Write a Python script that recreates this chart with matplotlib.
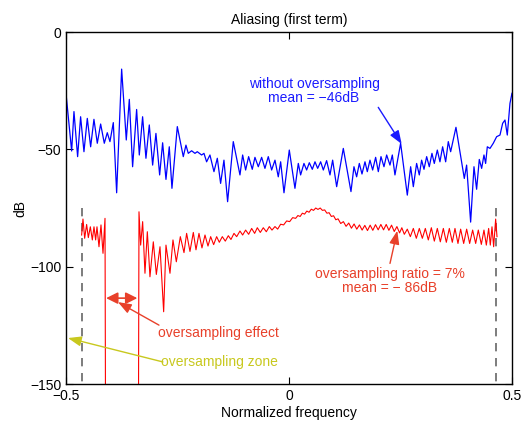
import matplotlib
matplotlib.use('Agg')
import matplotlib.pyplot as plt

plt.rcParams['font.family'] = ['Liberation Sans', 'DejaVu Sans']
plt.rcParams['font.size'] = 10

# aliasing spectrum without oversampling (dB)
blue_x = [-0.5, -0.4873, -0.4821, -0.4739, -0.4672, -0.4597, -0.4522, -0.4447, -0.4373, -0.4298,
          -0.4223, -0.4141, -0.4074, -0.4014, -0.3939, -0.3864, -0.3752, -0.3648, -0.3580, -0.3506,
          -0.3416, -0.3356, -0.3282, -0.3207, -0.3132, -0.3057, -0.2983, -0.2900, -0.2833, -0.2758,
          -0.2684, -0.2624, -0.2504, -0.2370, -0.2310, -0.2258, -0.2183, -0.2108, -0.2056, -0.1959,
          -0.1906, -0.1847, -0.1772, -0.1682, -0.1607, -0.1533, -0.1458, -0.1376, -0.1249, -0.1099,
          -0.1039, -0.0972, -0.0905, -0.0823, -0.0763, -0.0688, -0.0613, -0.0539, -0.0464, -0.0389,
          -0.0314, -0.0240, -0.0187, -0.0112, 0.0007, 0.0134, 0.0209, 0.0261, 0.0336, 0.0396,
          0.0456, 0.0523, 0.0583, 0.0643, 0.0710, 0.0770, 0.0844, 0.0919, 0.0979, 0.1069,
          0.1218, 0.1390, 0.1457, 0.1517, 0.1577, 0.1637, 0.1704, 0.1756, 0.1816, 0.1876,
          0.1943, 0.2003, 0.2063, 0.2130, 0.2190, 0.2264, 0.2317, 0.2376, 0.2503, 0.2653,
          0.2728, 0.2788, 0.2862, 0.2922, 0.2974, 0.3027, 0.3087, 0.3146, 0.3206, 0.3258,
          0.3326, 0.3385, 0.3445, 0.3513, 0.3572, 0.3625, 0.3744, 0.3931, 0.3983, 0.4073,
          0.4148, 0.4207, 0.4267, 0.4320, 0.4372, 0.4409, 0.4447, 0.4507, 0.4581, 0.4656,
          0.4731, 0.4791, 0.4843, 0.4895, 0.4955, 0.5]
blue_db = [-26.1, -50.7, -33.9, -53.1, -36.1, -51.0, -36.8, -48.9, -37.2, -47.4,
           -39.2, -47.4, -42.9, -46.7, -38.6, -68.5, -15.8, -46.0, -28.7, -57.4,
           -33.0, -52.4, -36.1, -53.8, -39.6, -56.7, -43.2, -60.9, -47.2, -62.8,
           -48.9, -66.6, -40.3, -53.1, -48.2, -51.7, -50.6, -51.7, -51.0, -52.4,
           -51.7, -55.3, -52.4, -59.5, -53.8, -64.5, -54.6, -72.3, -46.7, -60.9,
           -52.4, -58.8, -53.1, -58.5, -53.4, -57.4, -53.4, -58.1, -53.1, -58.8,
           -54.6, -61.7, -55.3, -68.5, -50.3, -66.6, -56.0, -60.9, -56.0, -58.8,
           -55.7, -58.5, -55.3, -58.1, -55.3, -58.8, -54.8, -60.9, -54.6, -65.9,
           -49.6, -68.0, -57.4, -61.7, -56.0, -60.5, -55.3, -59.5, -54.6, -58.8,
           -53.4, -59.5, -53.1, -57.4, -52.4, -56.7, -52.4, -60.9, -47.4, -69.5,
           -57.4, -65.9, -56.0, -60.9, -54.6, -58.5, -53.1, -57.4, -51.7, -56.0,
           -50.3, -55.3, -48.9, -55.3, -46.7, -51.0, -40.6, -62.4, -56.7, -81.0,
           -57.4, -67.0, -54.3, -58.1, -52.4, -56.0, -48.9, -49.6, -47.4, -44.6,
           -43.9, -38.9, -37.5, -43.9, -30.4, -26.1]

# aliasing spectrum with 7% oversampling (dB); -300 stands for the zero gap
red_x = [-0.4649, -0.4619, -0.4581, -0.4537, -0.4499, -0.4454, -0.4409, -0.4372, -0.4335, -0.4305,
         -0.4260, -0.4215, -0.4170, -0.4125, -0.4095, -0.3393, -0.3363, -0.3326, -0.3281, -0.3229,
         -0.3176, -0.3117, -0.3042, -0.2974, -0.2892, -0.2810, -0.2758, -0.2668, -0.2601, -0.2526,
         -0.2436, -0.2354, -0.2295, -0.2220, -0.2145, -0.2085, -0.2018, -0.1951, -0.1883, -0.1816,
         -0.1756, -0.1689, -0.1622, -0.1562, -0.1495, -0.1428, -0.1360, -0.1301, -0.1233, -0.1173,
         -0.1099, -0.1039, -0.0972, -0.0904, -0.0837, -0.0770, -0.0710, -0.0643, -0.0576, -0.0508,
         -0.0441, -0.0381, -0.0314, -0.0254, -0.0187, -0.0120, -0.0052, 0.0015, 0.0082, 0.0149,
         0.0200, 0.0250, 0.0300, 0.0350, 0.0400, 0.0450, 0.0500, 0.0550, 0.0600, 0.0650,
         0.0700, 0.0750, 0.0800, 0.0850, 0.0900, 0.0950, 0.1000, 0.1050, 0.1100, 0.1160,
         0.1220, 0.1280, 0.1340, 0.1400, 0.1460, 0.1520, 0.1580, 0.1640, 0.1700, 0.1760,
         0.1820, 0.1880, 0.1940, 0.2000, 0.2060, 0.2120, 0.2180, 0.2240, 0.2300, 0.2360,
         0.2420, 0.2480, 0.2530, 0.2586, 0.2653, 0.2721, 0.2788, 0.2855, 0.2922, 0.2990,
         0.3057, 0.3124, 0.3192, 0.3259, 0.3326, 0.3393, 0.3461, 0.3528, 0.3595, 0.3662,
         0.3722, 0.3789, 0.3849, 0.3917, 0.3984, 0.4051, 0.4118, 0.4186, 0.4245, 0.4313,
         0.4372, 0.4425, 0.4477, 0.4514, 0.4552, 0.4589, 0.4634, 0.4664]
red_db = [-86.5, -79.7, -87.9, -82.0, -87.6, -83.0, -88.6, -83.0, -88.6, -83.0,
          -91.5, -82.2, -94.3, -79.4, -300, -300, -76.6, -90.8, -80.8, -102.8,
          -85.1, -104.3, -89.4, -103.3, -91.5, -119.2, -90.8, -102.8, -88.6, -97.9,
          -87.2, -94.0, -85.8, -93.5, -85.4, -92.8, -85.8, -92.0, -86.5, -91.2,
          -87.2, -90.6, -87.2, -89.6, -87.2, -89.1, -86.8, -88.4, -85.8, -87.2,
          -84.8, -86.5, -84.4, -86.2, -83.7, -85.8, -83.4, -85.4, -83.4, -85.1,
          -82.9, -84.4, -82.9, -84.0, -81.9, -82.2, -80.5, -80.8, -79.1, -79.4,
          -78.2, -78.6, -77.2, -77.6, -76.3, -76.8, -75.5, -76.0, -75.0, -75.6,
          -75.0, -76.0, -75.8, -77.2, -77.0, -78.6, -78.3, -80.0, -79.6, -81.6,
          -80.8, -82.8, -81.4, -83.6, -81.8, -84.0, -82.2, -84.4, -82.4, -84.6,
          -82.3, -84.5, -82.1, -84.3, -82.0, -84.3, -82.0, -84.5, -82.3, -85.0,
          -82.9, -85.6, -83.4, -86.2, -84.0, -87.2, -83.7, -87.9, -83.7, -87.9,
          -83.7, -88.6, -83.4, -89.1, -83.7, -89.4, -83.7, -89.6, -83.7, -89.6,
          -83.7, -90.1, -84.0, -90.1, -84.0, -90.1, -84.4, -90.1, -84.4, -90.5,
          -84.4, -90.8, -83.7, -90.8, -83.0, -91.5, -79.7, -87.2]

# oversampling zone limits (normalized frequency)
zone_edges = [-0.465, 0.465]
zone_db = [-75, -150]

fig = plt.figure(figsize=(5.22, 4.22), dpi=100)
ax = fig.add_axes([0.1264, 0.0900, 0.8544, 0.8341])

for xe in zone_edges:
    ax.plot([xe, xe], zone_db, color='#666666', linestyle=(0, (5, 4)), linewidth=1.2)

ax.plot(blue_x, blue_db, color='#0000ff', linewidth=0.9)
ax.plot(red_x, red_db, color='#ff0000', linewidth=0.8)

ax.set_xlim(-0.5, 0.5)
ax.set_ylim(-150, 0)
ax.set_xticks([-0.5, 0, 0.5])
ax.set_xticklabels(['\u22120.5', '0', '0.5'])
ax.set_yticks([-150, -100, -50, 0])
ax.tick_params(direction='in', top=True, right=True, length=5, width=0.8)
for s in ax.spines.values():
    s.set_linewidth(1.0)

ax.set_title('Aliasing (first term)', fontsize=10, pad=6)
ax.set_xlabel('Normalized frequency', labelpad=2)
ax.set_ylabel('dB', labelpad=2)

# annotations
arrow = '-|>,head_length=0.8,head_width=0.3'
ax.annotate('', xy=(0.2527, -47.7), xytext=(0.2002, -32.1),
            arrowprops=dict(arrowstyle=arrow, color='#1a1aff', lw=1, shrinkA=0, shrinkB=0))
ax.text(0.056, -25.3, 'without oversampling\nmean = \u221246dB', color='#1a1aff',
        ha='center', va='center', fontsize=10, linespacing=1.0)

ax.annotate('', xy=(0.2428, -84.7), xytext=(0.2265, -98.6),
            arrowprops=dict(arrowstyle=arrow, color='#e8402a', lw=1, shrinkA=0, shrinkB=0))
ax.text(0.2253, -105.9, 'oversampling ratio = 7%\nmean = \u2212 86dB', color='#e8402a',
        ha='center', va='center', fontsize=10, linespacing=1.0)

ax.annotate('', xy=(-0.41, -113.4), xytext=(-0.34, -113.4),
            arrowprops=dict(arrowstyle='<|-|>,head_length=0.7,head_width=0.35', color='#e8402a', lw=1.2,
                            shrinkA=0, shrinkB=0))
ax.annotate('', xy=(-0.3834, -115.1), xytext=(-0.2915, -124.9),
            arrowprops=dict(arrowstyle=arrow, color='#e8402a', lw=1, shrinkA=0, shrinkB=0))
ax.text(-0.159, -128.3, 'oversampling effect', color='#e8402a', ha='center', va='center', fontsize=10)

ax.annotate('', xy=(-0.4955, -130.4), xytext=(-0.2825, -140.6),
            arrowprops=dict(arrowstyle=arrow, color='#c8c81e', lw=1, shrinkA=0, shrinkB=0))
ax.text(-0.155, -140.6, 'oversampling zone', color='#c8c81e', ha='center', va='center', fontsize=10)

fig.savefig('out.png', dpi=100)
